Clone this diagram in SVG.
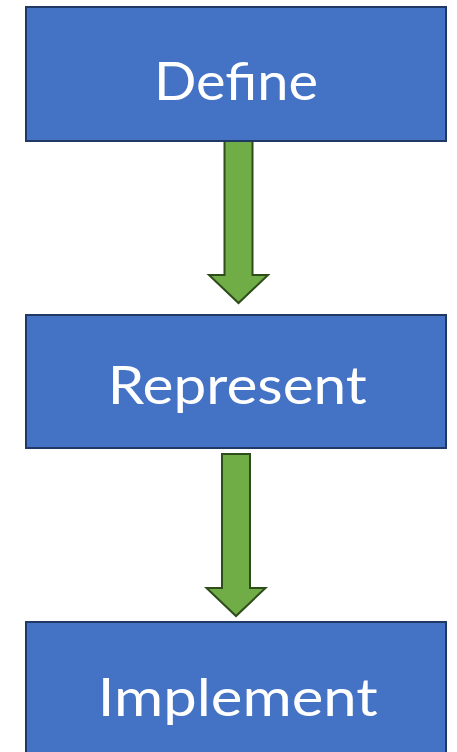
<svg xmlns="http://www.w3.org/2000/svg" width="457" height="752" viewBox="0 0 457 752">
<style>
.box{fill:#4472C4;stroke:#203864;stroke-width:2}
.lbl{font-family:Lato,"Liberation Sans",sans-serif;font-size:53px;fill:#ffffff;text-anchor:middle}
.arr{fill:#70AD47;stroke:#2E4D1B;stroke-width:2;stroke-linejoin:miter}
</style>
<rect width="457" height="752" fill="#ffffff"/>
<g id="connectors">
<polygon class="arr" points="224.5,141 252.5,141 252.5,275 268,275 238.5,303 209,275 224.5,275"/>
<polygon class="arr" points="222,454 250,454 250,588 265.5,588 236,616 206.5,588 222,588"/>
</g>
<g id="define">
<rect class="box" x="26" y="7" width="420" height="134"/>
<text class="lbl" x="236" y="100" textLength="164" lengthAdjust="spacingAndGlyphs">Define</text>
</g>
<g id="represent">
<rect class="box" x="26" y="315" width="420" height="133"/>
<text class="lbl" x="237.3" y="404" textLength="259" lengthAdjust="spacingAndGlyphs">Represent</text>
</g>
<g id="implement">
<rect class="box" x="26" y="622" width="420" height="140"/>
<text class="lbl" x="237.7" y="716" textLength="280" lengthAdjust="spacingAndGlyphs">Implement</text>
</g>
</svg>
